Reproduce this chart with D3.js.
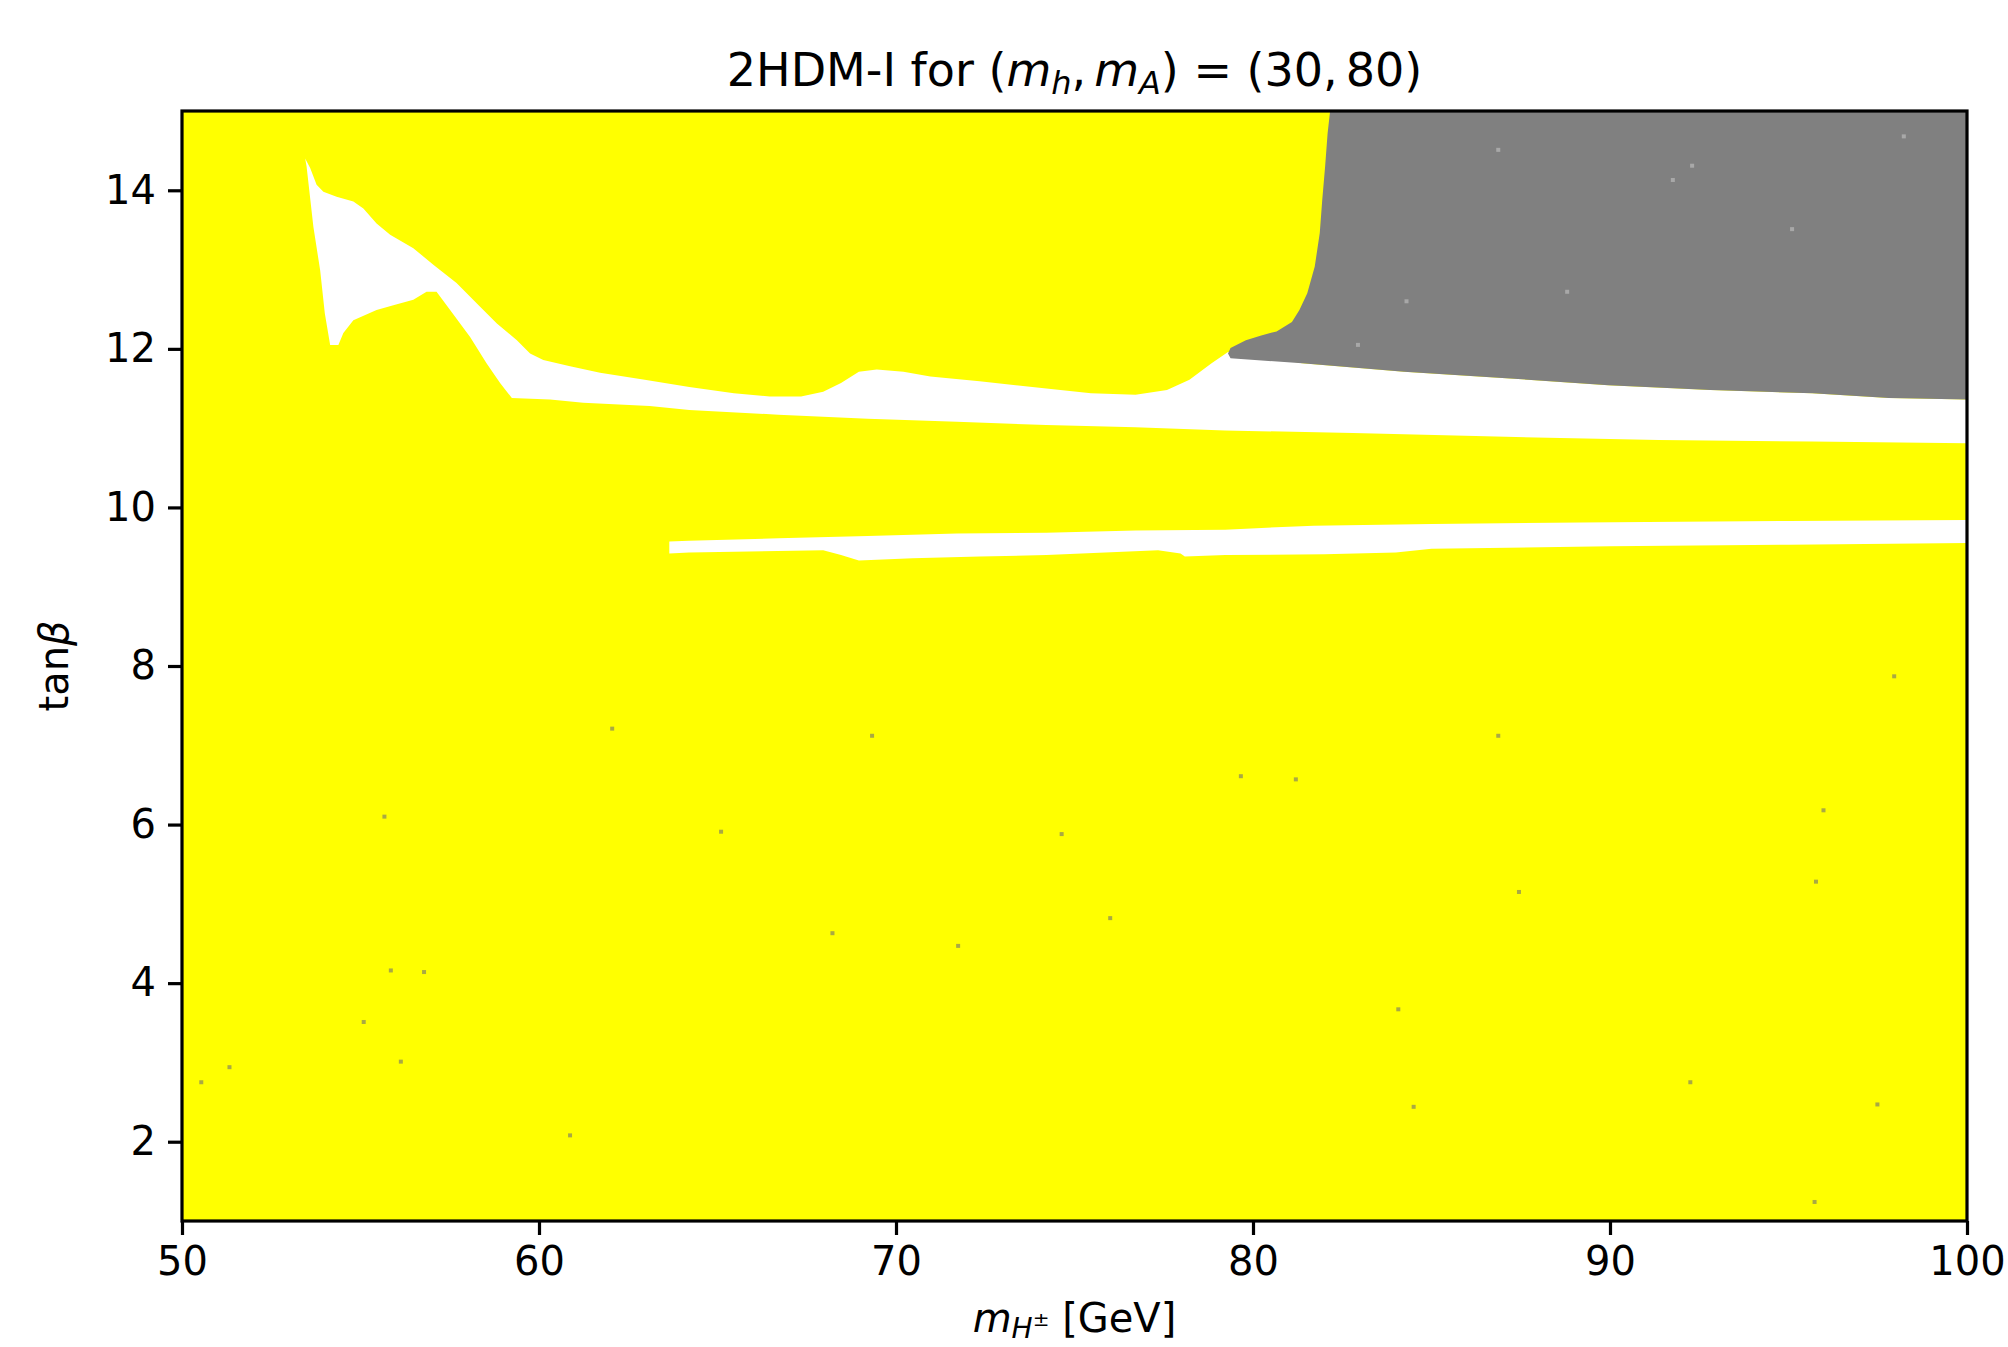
<!DOCTYPE html>
<html><head><meta charset="utf-8">
<script src="https://cdn.jsdelivr.net/npm/d3@7"></script>
<style>
body{margin:0;background:#fff;}
text{font-family:"DejaVu Sans",sans-serif;fill:#000;}
</style>
</head><body>
<svg id="chart" width="2008" height="1347"></svg>
<script>
// ---- data ----
const xDomain = [50, 100];
const yDomain = [1, 15];
const xTicks = [50, 60, 70, 80, 90, 100];
const yTicks = [2, 4, 6, 8, 10, 12, 14];

// white (allowed) upper band: upper boundary, left -> right
const band1Upper = [[53.45,14.40],[53.59,14.28],[53.77,14.07],[53.96,13.98],[54.33,13.92],[54.8,13.86],[55.08,13.77],[55.45,13.58],[55.83,13.44],[56.48,13.27],[57.04,13.06],[57.69,12.83],[58.35,12.53],[58.82,12.32],[59.38,12.11],[59.75,11.94],[60.12,11.86],[60.87,11.78],[61.71,11.70],[62.96,11.61],[64.21,11.52],[65.46,11.44],[66.46,11.40],[67.34,11.40],[67.96,11.46],[68.46,11.57],[68.96,11.71],[69.46,11.74],[70.21,11.71],[70.96,11.65],[72.34,11.59],[74.21,11.50],[75.46,11.44],[76.71,11.42],[77.59,11.48],[78.22,11.61],[78.84,11.82],[79.3,11.96],[79.6,11.96],[81.37,11.82],[84.23,11.71],[87.09,11.63],[89.95,11.54],[92.81,11.48],[95.66,11.44],[97.81,11.38],[100,11.36]];
// white upper band: lower boundary, left -> right
const band1Lower = [[53.45,14.40],[53.49,14.30],[53.68,13.54],[53.87,12.99],[54.0,12.45],[54.15,12.05],[54.38,12.05],[54.52,12.20],[54.8,12.36],[55.45,12.49],[55.92,12.55],[56.48,12.62],[56.85,12.72],[57.13,12.72],[57.51,12.49],[58.07,12.15],[58.53,11.82],[58.91,11.57],[59.24,11.38],[60.31,11.36],[61.24,11.32],[63.1,11.28],[64.21,11.23],[66.71,11.17],[69.21,11.12],[71.71,11.08],[74.21,11.04],[76.71,11.01],[79.22,10.97],[82.8,10.94],[87.09,10.89],[91.37,10.85],[95.66,10.83],[100,10.81]];
// white lower strip
const band2Upper = [[63.65,9.57],[64.2,9.58],[66.71,9.61],[69.21,9.64],[71.71,9.67],[74.21,9.68],[76.71,9.71],[79.22,9.72],[81.7,9.77],[85,9.79],[89.2,9.81],[95,9.83],[100,9.84]];
const band2Lower = [[63.65,9.42],[64.2,9.43],[67.96,9.46],[68.46,9.40],[68.96,9.33],[69.46,9.34],[70.46,9.36],[72.34,9.38],[74.21,9.40],[77.34,9.46],[77.97,9.42],[78.09,9.38],[79.22,9.40],[82,9.41],[84,9.43],[85,9.48],[90,9.51],[95,9.53],[100,9.55]];
// gray region boundary (left edge top->bottom, then bottom edge left->right)
const grayEdge = [[82.16,15],[82.09,14.72],[82.02,14.30],[81.94,13.88],[81.87,13.46],[81.73,13.04],[81.52,12.70],[81.30,12.49],[81.09,12.34],[80.66,12.22],[80.23,12.17],[79.80,12.11],[79.37,12.01],[79.3,11.94],[79.37,11.88],[81.37,11.82],[84.23,11.71],[87.09,11.63],[89.95,11.54],[92.81,11.48],[95.66,11.44],[97.81,11.38],[100,11.36],[100,15]];
// isolated scan points of another class
const speckYellow = [[62.05,7.21],[69.33,7.12],[86.87,7.12],[97.96,7.87],[79.66,6.61],[81.2,6.57],[55.67,6.10],[65.1,5.91],[74.64,5.88],[95.98,6.18],[76.0,4.82],[68.22,4.63],[71.74,4.47],[95.77,5.28],[84.07,3.67],[92.25,2.75],[97.49,2.47],[84.5,2.44],[95.73,1.24],[51.33,2.94],[50.54,2.75],[60.87,2.08],[55.09,3.51],[56.13,3.01],[55.85,4.16],[56.78,4.14],[87.45,5.15]];
const speckGray = [[86.87,14.51],[92.3,14.31],[88.8,12.72],[84.3,12.6],[82.94,12.05],[95.1,13.51],[98.23,14.68],[91.76,14.13]];

// ---- layout ----
const W = 2008, H = 1347;
const m = {left: 182, right: 41, top: 111, bottom: 126};
const svg = d3.select("#chart");
svg.append("rect").attr("width", W).attr("height", H).attr("fill", "#fff");

const x = d3.scaleLinear().domain(xDomain).range([m.left, W - m.right]);
const y = d3.scaleLinear().domain(yDomain).range([H - m.bottom, m.top]);

svg.append("clipPath").attr("id", "clip").append("rect")
  .attr("x", m.left).attr("y", m.top)
  .attr("width", W - m.left - m.right).attr("height", H - m.top - m.bottom);

const g = svg.append("g").attr("clip-path", "url(#clip)");
const line = d3.line().x(d => x(d[0])).y(d => y(d[1]));

// background: excluded (yellow)
g.append("rect").attr("x", x(xDomain[0])).attr("y", y(yDomain[1]))
  .attr("width", x(xDomain[1]) - x(xDomain[0])).attr("height", y(yDomain[0]) - y(yDomain[1]))
  .attr("fill", "#ffff00");

function band(upper, lower) {
  return line(upper.concat(lower.slice().reverse())) + "Z";
}
g.append("path").attr("d", band(band1Upper, band1Lower)).attr("fill", "#ffffff");
g.append("path").attr("d", band(band2Upper, band2Lower)).attr("fill", "#ffffff");
g.append("path").attr("d", line(grayEdge) + "Z").attr("fill", "#808080");

g.selectAll("rect.sy").data(speckYellow).enter().append("rect")
  .attr("class", "sy").attr("x", d => x(d[0]) - 2).attr("y", d => y(d[1]) - 2)
  .attr("width", 4).attr("height", 4).attr("fill", "#8c8c5a").attr("opacity", 0.75);
g.selectAll("rect.sg").data(speckGray).enter().append("rect")
  .attr("class", "sg").attr("x", d => x(d[0]) - 2).attr("y", d => y(d[1]) - 2)
  .attr("width", 4).attr("height", 4).attr("fill", "#a8a8a8");

// ---- axes ----
const xAxis = d3.axisBottom(x).tickValues(xTicks).tickFormat(d3.format("d")).tickSizeInner(14).tickSizeOuter(0).tickPadding(12);
const yAxis = d3.axisLeft(y).tickValues(yTicks).tickFormat(d3.format("d")).tickSizeInner(14).tickSizeOuter(0).tickPadding(12);

const gx = svg.append("g").attr("transform", `translate(0,${H - m.bottom})`).call(xAxis);
const gy = svg.append("g").attr("transform", `translate(${m.left},0)`).call(yAxis);
[gx, gy].forEach(a => {
  a.select(".domain").remove();
  a.selectAll(".tick line").attr("stroke", "#000").attr("stroke-width", 3.2);
  a.selectAll(".tick text").attr("font-family", "DejaVu Sans").attr("font-size", 40).attr("fill", "#000");
});

// frame (spines)
svg.append("rect").attr("x", m.left).attr("y", m.top)
  .attr("width", W - m.left - m.right).attr("height", H - m.top - m.bottom)
  .attr("fill", "none").attr("stroke", "#000").attr("stroke-width", 3.2);

// ---- title ----
const t = svg.append("text").attr("x", (m.left + W - m.right) / 2).attr("y", 86)
  .attr("text-anchor", "middle").attr("font-size", 46);
t.append("tspan").text("2HDM-I for (");
t.append("tspan").attr("font-style", "italic").text("m");
t.append("tspan").attr("font-style", "italic").attr("font-size", 32).attr("dy", 8).text("h");
t.append("tspan").attr("dy", -8).text(",");
t.append("tspan").attr("font-style", "italic").attr("dx", 8).text("m");
t.append("tspan").attr("font-style", "italic").attr("font-size", 32).attr("dy", 8).text("A");
t.append("tspan").attr("dy", -8).text(") = (30,");
t.append("tspan").attr("dx", 8).text("80)");

// ---- x label ----
const xl = svg.append("text").attr("x", (m.left + W - m.right) / 2).attr("y", 1332)
  .attr("text-anchor", "middle").attr("font-size", 40);
xl.append("tspan").attr("font-style", "italic").text("m");
xl.append("tspan").attr("font-style", "italic").attr("font-size", 28).attr("dy", 6).text("H");
xl.append("tspan").attr("font-size", 20).attr("dy", -12).text("±");
xl.append("tspan").attr("dy", 6).text(" [GeV]");

// ---- y label ----
const yl = svg.append("text").attr("transform", `translate(68,${(m.top + H - m.bottom) / 2}) rotate(-90)`)
  .attr("text-anchor", "middle").attr("font-size", 40);
yl.append("tspan").text("tan");
yl.append("tspan").attr("font-style", "italic").text("β");
</script>
</body></html>
